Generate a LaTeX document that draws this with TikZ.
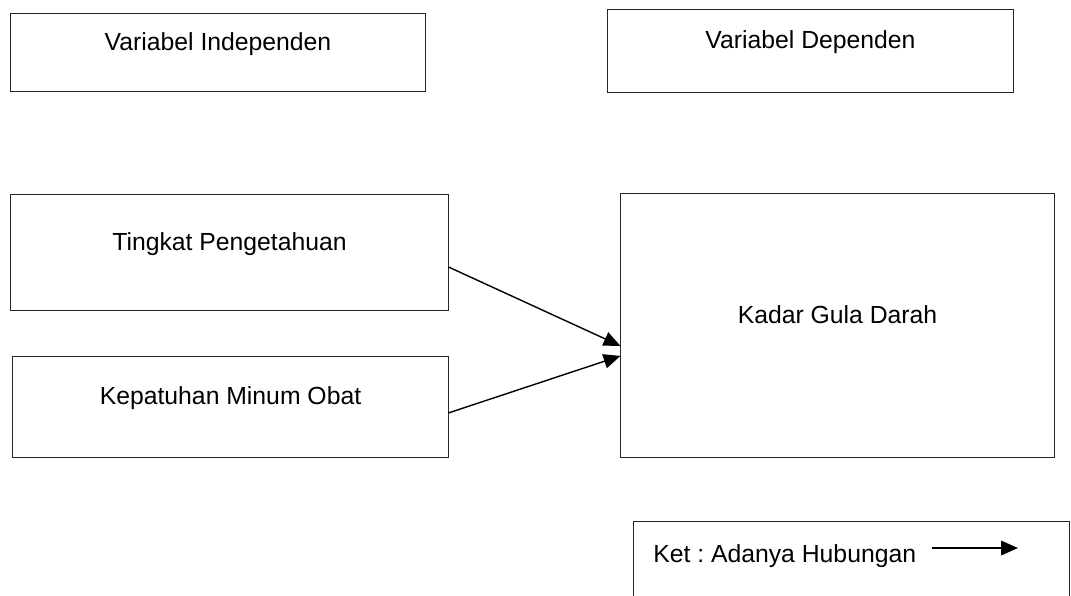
\documentclass[tikz,border=0pt]{standalone}
\usepackage{fontspec}
\setmainfont{Liberation Sans}
\usetikzlibrary{arrows.meta}
\frenchspacing
\begin{document}
\begin{tikzpicture}[
        x={(0.025cm,0)}, y={(0,-0.025cm)},
        >={Triangle[length=0.42cm,width=0.36cm]},
        varbox/.style={rectangle, draw=black!85, line width=0.7pt, inner sep=0pt,
            text height=0pt, text depth=0.1cm, font=\fontsize{17.6}{21}\selectfont},
        relation/.style={->, line width=1pt}
    ]
    \useasboundingbox (0,0) rectangle (1071,595);

        % Judul
        \node[varbox, minimum width=10.35cm, minimum height=1.95cm] (indep) at (218,52) {Variabel Independen};
        \node[varbox, minimum width=10.125cm, minimum height=2.075cm] (dep) at (810.5,50.5) {Variabel Dependen};

        % Variabel
        \node[varbox, minimum width=10.925cm, minimum height=2.9cm] (tingkat) at (229.5,252) {Tingkat Pengetahuan};
        \node[varbox, minimum width=10.875cm, minimum height=2.525cm] (patuh) at (230.5,406.5) {Kepatuhan Minum Obat};
        \node[varbox, minimum width=10.825cm, minimum height=6.575cm] (kadar) at (837.5,325.5) {Kadar Gula Darah};

        % Hubungan
        \draw[relation] ([yshift=-0.375cm]tingkat.east) -- ([yshift=-0.51cm]kadar.west);
        \draw[relation] ([yshift=-0.16cm]patuh.east) -- ([yshift=-0.76cm]kadar.west);

        % Keterangan
        \node[varbox, minimum width=10.875cm, minimum height=2.475cm] (ket) at (851.5,570.5) {};
        \node[anchor=base west, inner sep=0pt, font=\fontsize{17.6}{21}\selectfont] (ketlabel) at (653,562) {Ket : Adanya Hubungan};
        \coordinate (ketstart) at (932,548);
        \coordinate (ketend) at (1018,548);
        \draw[relation] (ketstart) -- (ketend);

    \end{tikzpicture}
\end{document}
